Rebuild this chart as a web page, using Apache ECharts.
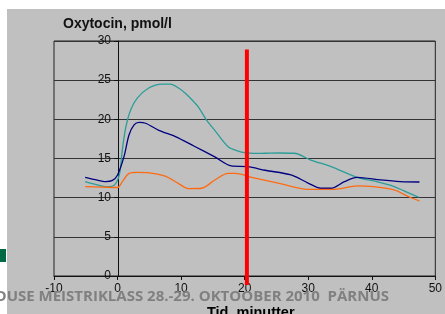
<!DOCTYPE html>
<html><head><meta charset="utf-8">
<script src="https://cdn.jsdelivr.net/npm/echarts@6/dist/echarts.min.js"></script>
<style>html,body{margin:0;padding:0;background:#fff}#c{width:445px;height:314px}</style>
</head><body><div id="c"></div>
<script>
// Data (time in minutes, oxytocin pmol/l)
var tealX  = [-5.1,-3.5,-1.6,-0.5,0.3,0.75,1.3,2.06,3.1,4.9,7,8.3,9.6,10.7,11.7,12.7,14,15.3,17.4,19,20,21.5,23.2,25.5,27.8,30.4,33.6,37.7,40.5,42.9,45,47.4];
var tealY  = [12.05,11.7,11.4,11.6,13.0,16.1,19.0,21.2,22.7,24.0,24.5,24.5,24.0,23.3,22.5,21.6,19.9,18.6,16.5,15.95,15.75,15.65,15.67,15.7,15.67,14.8,13.96,12.6,12.1,11.6,10.9,10.05];
var navyX  = [-5.1,-3.5,-1.85,-0.8,0,1,1.8,2.6,3.4,4.4,6.5,9.1,12,15.3,17.9,20.5,23.2,27.3,29.9,32,33.6,35.7,37.7,41.4,44.5,47.5];
var navyY  = [12.6,12.3,12.05,12.2,12.9,15.2,18.0,19.3,19.6,19.5,18.6,17.8,16.6,15.2,14.05,13.96,13.5,12.9,11.9,11.2,11.2,12.05,12.6,12.26,12.05,12.0];
var orangeX = [-5.1,-2.5,0,0.75,1.8,3.1,4.7,7.5,9.6,11.2,13.25,15.3,17.4,18.5,21.1,25.8,29.9,34.1,37.7,40.3,43.5,46,47.5];
var orangeY = [11.4,11.35,11.3,12.05,13.1,13.24,13.2,12.75,11.8,11.15,11.2,12.26,13.1,13.1,12.6,11.75,11.07,11.07,11.5,11.4,11.0,10.05,9.6];
var markerX = [20.35, 20.35];
var markerY = [28.9, -1.15];
var xTicks = [-10, 0, 10, 20, 30, 40, 50];
var yTicks = [0, 5, 10, 15, 20, 25, 30];

function pairs(xs, ys){ return xs.map(function(x,i){ return [x, ys[i]]; }); }

var chart = echarts.init(document.getElementById('c'), null, {renderer:'canvas'});
chart.setOption({
  backgroundColor: '#ffffff',
  animation: false,
  graphic: [
    {type:'rect', z:-10, shape:{x:7,y:9,width:438,height:305}, style:{fill:'#c0c0c0'}},
    {type:'rect', z:100, shape:{x:0,y:249,width:6,height:13}, style:{fill:'#006a45'}},
    {type:'text', z:100, left:63, top:17, style:{text:'Oxytocin, pmol/l', font:'bold 14px "Liberation Sans", Arial', fill:'#111'}},
    {type:'text', z:100, left:207, top:305, style:{text:'Tid, minutter', font:'bold 14.5px "Liberation Sans", Arial', fill:'#000'}},
    {type:'text', z:101, right:56, top:289, style:{text:'DUSE MEISTRIKLASS 28.-29. OKTOOBER 2010  PÄRNUS', font:'bold 15px "Open Sans"', fill:'#808080'}}
  ],
  grid: {left:54, right:7, top:41, bottom:38, show:true, borderColor:'#222', borderWidth:1, backgroundColor:'transparent'},
  xAxis: {
    type:'value', min:-10, max:50, interval:10,
    axisLine:{show:true, onZero:false, lineStyle:{color:'#111', width:1}},
    axisTick:{show:true, length:4, lineStyle:{color:'#111'}},
    axisLabel:{margin:7, fontSize:12, color:'#111', fontFamily:'"Liberation Sans", Arial'},
    splitLine:{show:false}
  },
  yAxis: {
    type:'value', min:0, max:30, interval:5, position:'left', offset:-64,
    axisLine:{show:true, onZero:false, lineStyle:{color:'#111', width:1}},
    axisTick:{show:true, length:4, lineStyle:{color:'#111'}},
    axisLabel:{margin:7, fontSize:12, color:'#111', fontFamily:'"Liberation Sans", Arial'},
    splitLine:{show:true, lineStyle:{color:'#333', width:1}}
  },
  series: [
    {type:'line', data:pairs(tealX, tealY), smooth:0.3, symbol:'none', lineStyle:{color:'#2a9d98', width:1.3}},
    {type:'line', data:pairs(navyX, navyY), smooth:0.3, symbol:'none', lineStyle:{color:'#000080', width:1.3}},
    {type:'line', data:pairs(orangeX, orangeY), smooth:0.3, symbol:'none', lineStyle:{color:'#ff6a10', width:1.3}},
    {type:'line', data:pairs(markerX, markerY), clip:false, symbol:'none', z:5, lineStyle:{color:'#ff0000', width:4}}
  ]
});
</script>
</body></html>
